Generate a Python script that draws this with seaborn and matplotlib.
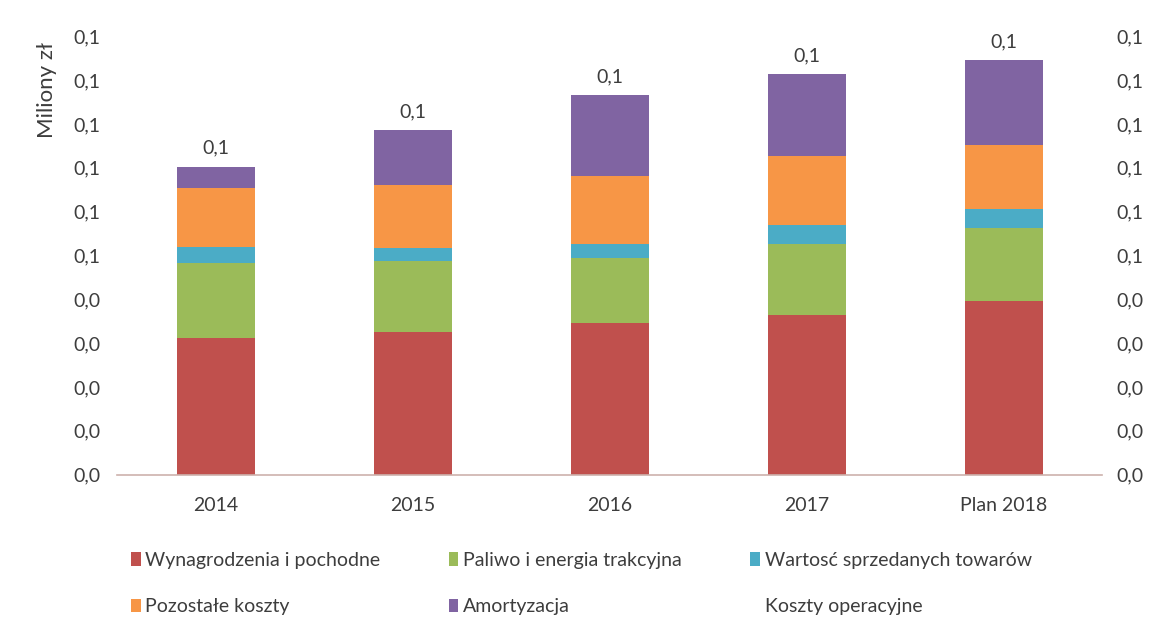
import numpy as np
import pandas as pd
import seaborn as sns
import matplotlib.pyplot as plt
from matplotlib.patches import Patch

# Categories and series (values in millions zł)
years = ['2014', '2015', '2016', '2017', 'Plan 2018']
wynagrodzenia = [0.0312, 0.0325, 0.0345, 0.0363, 0.0396]
paliwo = [0.0171, 0.0162, 0.0150, 0.0164, 0.0167]
towary = [0.0036, 0.0030, 0.0031, 0.0042, 0.0042]
pozostale = [0.0135, 0.0145, 0.0156, 0.0157, 0.0147]
amortyzacja = [0.0049, 0.0124, 0.0184, 0.0188, 0.0194]

series_names = ['Wynagrodzenia i pochodne', 'Paliwo i energia trakcyjna',
                'Wartosć sprzedanych towarów', 'Pozostałe koszty', 'Amortyzacja']
total_name = 'Koszty operacyjne'

y_ticks = [0.0, 0.01, 0.02, 0.03, 0.04, 0.05, 0.06, 0.07, 0.08, 0.09, 0.1]
y_tick_labels = ['0,0', '0,0', '0,0', '0,0', '0,0', '0,1', '0,1', '0,1', '0,1', '0,1', '0,1']

colors = ['#c0504d', '#9bbb59', '#4bacc6', '#f79646', '#8064a2']
text_color = '#3d3d3d'
fs = 14

sns.set_theme(style='white')
plt.rcParams['font.family'] = ['Lato', 'DejaVu Sans']
plt.rcParams['text.color'] = text_color

df = pd.DataFrame({'rok': years})
for name, vals in zip(series_names, [wynagrodzenia, paliwo, towary, pozostale, amortyzacja]):
    df[name] = vals
cum = df[series_names].cumsum(axis=1)
df[total_name] = cum[series_names[-1]]

fig = plt.figure(figsize=(11.56, 6.18), dpi=100)
ax = fig.add_axes([0.1016, 0.2322, 0.8521, 0.7088])

# stacked bars: draw cumulative heights from top layer down
for name, color in reversed(list(zip(series_names, colors))):
    sns.barplot(x=df['rok'], y=cum[name], color=color, saturation=1,
                width=0.4, linewidth=0, ax=ax)

# total labels above bars
for i, tot in enumerate(df[total_name]):
    ax.annotate(f'{tot:.1f}'.replace('.', ','), (i, tot), xytext=(0, 7),
                textcoords='offset points', ha='center', va='bottom',
                fontsize=fs, color=text_color)

ax.set_xlim(-0.5, 4.5)
ax.set_ylim(0, 0.1)
ax.set_yticks(y_ticks)
ax.set_yticklabels(y_tick_labels)
ax.set_xlabel('')
ax.set_ylabel('')

# right-hand copy of the value axis
ax2 = ax.twinx()
ax2.set_ylim(ax.get_ylim())
ax2.set_yticks(y_ticks)
ax2.set_yticklabels(y_tick_labels)
ax2.tick_params(axis='y', right=False, length=0, labelsize=fs,
                labelcolor=text_color, pad=10)
ax2.grid(False)

ax.tick_params(axis='y', left=False, right=False, length=0, labelsize=fs,
               labelcolor=text_color, pad=12)
ax.tick_params(axis='x', bottom=False, length=0, labelsize=fs,
               labelcolor=text_color, pad=16)

for a in (ax, ax2):
    for side in ['top', 'left', 'right']:
        a.spines[side].set_visible(False)
ax2.spines['bottom'].set_visible(False)
ax.spines['bottom'].set_color('#cdb2ad')
ax.spines['bottom'].set_linewidth(1.2)

fig.text(0.041, 1 - 90 / 618, 'Miliony zł', rotation=90, ha='center', va='center',
         fontsize=16, color=text_color)

# legend: order for column-major fill of 2 rows x 3 cols
handles = [Patch(facecolor=c, edgecolor='none') for c in colors]
handles.append(Patch(facecolor='none', edgecolor='none'))
labels = series_names + [total_name]
order = [0, 3, 1, 4, 2, 5]
fig.legend([handles[i] for i in order], [labels[i] for i in order],
           ncol=3, loc='upper left', bbox_to_anchor=(0.098, 0.135),
           frameon=False, fontsize=fs, handlelength=0.5, handleheight=0.7,
           handletextpad=0.25, columnspacing=3.5, labelspacing=1.5,
           labelcolor=text_color)

fig.savefig('out.png', dpi=100, facecolor='white')
